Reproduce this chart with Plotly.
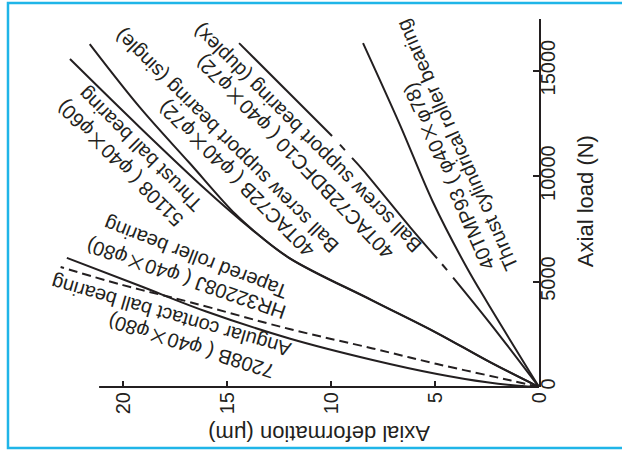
import plotly.graph_objects as go

# ---------------- data ----------------
# x: axial deformation (um), y: axial load (N)
defl_7208B = [0, 1.0, 2.5, 4.9, 8.0, 12.0, 16.0, 19.2, 22.7]
load_7208B = [0, 60, 220, 615, 1280, 2300, 3580, 4800, 6120]

defl_HR32208J = [0, 1.4, 4.9, 8.0, 12.0, 16.8, 20.0, 23.0]
load_HR32208J = [0, 320, 1090, 1830, 2750, 4030, 4830, 5690]

defl_51108 = [0, 2.4, 4.9, 8.0, 12.0, 14.4, 16.0, 19.2, 22.55]
load_51108 = [0, 1200, 2560, 4100, 6115, 7960, 9340, 12320, 15550]

defl_40TAC72B = [0, 2.4, 4.9, 8.0, 12.0, 13.4, 14.6, 16.8, 19.2, 21.6]
load_40TAC72B = [0, 1200, 2560, 4100, 6115, 7150, 8200, 10620, 13270, 16260]

# duplex curve is drawn with two small broken sections (None = gap)
defl_40TAC72BDFC10 = [0, 2.36, 4.13, None, 4.42, 4.66, None, 4.9, 6.2, 8.46, 8.99, None, 9.33, 9.57, None, 9.95, 14.42]
load_40TAC72BDFC10 = [0, 3034, 5192, None, 5546, 5821, None, 6096, 7584, 10286, 10862, None, 11231, 11492, None, 11904, 16306]

defl_40TMP93 = [0, 2.5, 3.46, 5.1, 6.68, 8.46]
load_40TMP93 = [0, 4030, 5640, 8770, 12420, 16306]

x_ticks = [0, 5, 10, 15, 20]
y_ticks = [0, 5000, 10000, 15000]

x_title = "Axial deformation (μm)"
y_title = "Axial load (N)"

# curve labels: (first line, second line)
X = "<span style='font-family:Noto Sans CJK JP'>×</span>"
label_models = ["7208B", "HR32208J", "51108", "40TAC72B", "40TAC72BDFC10", "40TMP93"]
label_sizes = [("40", "80"), ("40", "80"), ("40", "60"), ("40", "72"), ("40", "72"), ("40", "78")]
label_types = ["Angular contact ball bearing", "Tapered roller bearing", "Thrust ball bearing",
               "Ball screw support bearing (single)", "Ball screw support bearing (duplex)",
               "Thrust cylindrical roller bearing"]

# ---------------- figure ----------------
INK = "#231f20"
fig = go.Figure()

series = [
    (defl_7208B, load_7208B, "solid"),
    (defl_HR32208J, load_HR32208J, "9px,5px"),
    (defl_51108, load_51108, "solid"),
    (defl_40TAC72B, load_40TAC72B, "solid"),
    (defl_40TAC72BDFC10, load_40TAC72BDFC10, "solid"),
    (defl_40TMP93, load_40TMP93, "solid"),
]
for xs, ys, dash in series:
    fig.add_trace(go.Scatter(x=xs, y=ys, mode="lines", connectgaps=False,
                             line=dict(color=INK, width=2, dash=dash, shape="spline", smoothing=1.0),
                             showlegend=False, hoverinfo="skip"))

# label placement (centre in data units, angle)
first_pos = [(16.78, 1849, -162.5), (16.97, 5024, -161), (20.19, 10523, -135),
             (14.62, 9812, -135), (11.83, 10855, -134), (4.42, 9954, -113.5)]
second_pos = [(17.69, 3365, -164), (16.49, 6115, -159), (19.18, 11281, -135),
              (15.0, 11660, -135), (11.15, 11803, -135), (3.94, 11471, -114)]

FONT = "Liberation Sans, Arial, sans-serif"
for i in range(6):
    a, b = label_sizes[i]
    line1 = f"{label_models[i]} ( φ{a}{X}φ{b})"
    line2 = label_types[i]
    for txt, (px, py, ang) in ((line1, first_pos[i]), (line2, second_pos[i])):
        fig.add_annotation(x=px, y=py, xref="x", yref="y", text=txt, showarrow=False,
                           textangle=ang, xanchor="center", yanchor="middle",
                           font=dict(family=FONT, size=20, color=INK))

# axis titles
fig.add_annotation(x=0.549, y=-0.128, xref="paper", yref="paper", text=x_title,
                   xanchor="center", yanchor="middle",
                   showarrow=False, textangle=180, font=dict(family=FONT, size=22, color=INK))
fig.add_annotation(x=1.094, y=0.505, xref="paper", yref="paper", text=y_title,
                   xanchor="center", yanchor="middle",
                   showarrow=False, textangle=-90, font=dict(family=FONT, size=22, color=INK))

# x-axis line (shorter than plot area)
fig.add_shape(type="line", xref="paper", yref="paper", x0=0.1004, x1=1.0, y0=0, y1=0,
              line=dict(color=INK, width=2))

# blue frame
fig.add_shape(type="path", xref="paper", yref="paper",
              path="M 1.2,1.0435 L -0.0859,1.0435 L -0.0859,-0.1658 L 1.2,-0.1658",
              line=dict(color="#1fb5e8", width=2.5))

fig.update_xaxes(range=[23.51, 0], tickvals=x_ticks, ticktext=[str(v) for v in x_ticks],
                 ticks="inside", ticklen=6, tickwidth=2,
                 tickcolor=INK, tickangle=-90, tickfont=dict(family=FONT, size=20, color=INK),
                 showline=False, showgrid=False, zeroline=False)
fig.update_yaxes(range=[0, 17450], tickvals=y_ticks, ticktext=[str(v) for v in y_ticks],
                 side="right", ticks="inside", ticklen=6, ticklabelstandoff=-10,
                 tickwidth=2, tickcolor=INK, tickangle=-90,
                 tickfont=dict(family=FONT, size=20, color=INK),
                 showline=True, linecolor=INK, linewidth=2, showgrid=False, zeroline=False)

fig.update_layout(width=622, height=452, margin=dict(l=50, r=83, t=19, b=65, autoexpand=False),
                  plot_bgcolor="white", paper_bgcolor="white")

fig.write_html("out.html", config={"displayModeBar": False},
               post_script="document.body.style.margin='0';")
